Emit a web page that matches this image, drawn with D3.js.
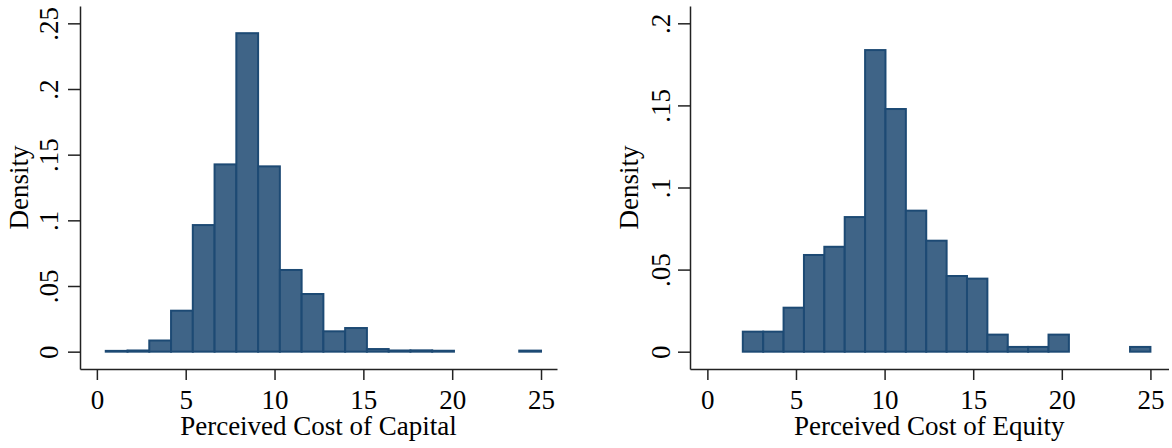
<!DOCTYPE html>
<html>
<head>
<meta charset="utf-8">
<script src="https://cdn.jsdelivr.net/npm/d3@7"></script>
<style>
  html, body { margin: 0; padding: 0; background: #fff; }
  svg { display: block; }
  text { font-family: "Liberation Serif", "Times New Roman", serif; fill: #000; }
</style>
</head>
<body>
<svg id="chart" width="1172" height="448"></svg>
<script>
// ---- Data ----
// Left panel: Perceived Cost of Capital (20 bins from 0.5 to 25)
const capitalBinStart = 0.5;
const capitalBinWidth = 1.225;
const capitalDensity = [0.0006, 0.0009, 0.0085, 0.0312, 0.0964, 0.1426, 0.2425, 0.1411, 0.0622, 0.0439,
                        0.0155, 0.0180, 0.0020, 0.0009, 0.0010, 0.0007, 0, 0, 0, 0.0008];
// Right panel: Perceived Cost of Equity (20 bins from 2 to 25)
const equityBinStart = 2;
const equityBinWidth = 1.15;
const equityDensity = [0.0122, 0.0122, 0.0268, 0.0589, 0.0639, 0.0820, 0.1837, 0.1478, 0.0859, 0.0676,
                       0.0461, 0.0445, 0.0104, 0.0029, 0.0029, 0.0104, 0, 0, 0, 0.0029];

const xTicks = [0, 5, 10, 15, 20, 25];
const capitalYTicks = [0, 0.05, 0.1, 0.15, 0.2, 0.25];
const equityYTicks = [0, 0.05, 0.1, 0.15, 0.2];
const yTickLabels = {0: "0", 0.05: ".05", 0.1: ".1", 0.15: ".15", 0.2: ".2", 0.25: ".25"};

const capitalTitle = "Perceived Cost of Capital";
const equityTitle = "Perceived Cost of Equity";
const yTitle = "Density";

// ---- Drawing ----
const svg = d3.select("#chart");
const fillColor = "#3f6487";
const strokeColor = "#1d4a74";
const axisColor = "#222";
const fontSize = 27;

function panel(opts) {
  const x = d3.scaleLinear().domain(opts.xDomain).range(opts.xRange);
  const y = d3.scaleLinear().domain(opts.yDomain).range(opts.yRange);
  const g = svg.append("g");

  const bins = opts.values.map((v, i) => ({
    x0: opts.binStart + i * opts.binWidth,
    x1: opts.binStart + (i + 1) * opts.binWidth,
    v: v
  })).filter(d => d.v > 0);

  g.selectAll("rect.bar").data(bins).join("rect")
    .attr("class", "bar")
    .attr("x", d => x(d.x0))
    .attr("width", d => x(d.x1) - x(d.x0))
    .attr("y", d => y(d.v))
    .attr("height", d => Math.max(0.5, y(0) - y(d.v)))
    .attr("fill", fillColor)
    .attr("stroke", strokeColor)
    .attr("stroke-width", 2);

  // x axis
  const xAxis = g.append("g")
    .attr("transform", `translate(0,${opts.yRange[0]})`)
    .call(d3.axisBottom(x).tickValues(xTicks).tickSize(11).tickSizeOuter(0).tickFormat(d3.format("d")));
  xAxis.selectAll("path, line").attr("stroke", axisColor).attr("stroke-width", 1.5);
  xAxis.selectAll("text")
    .attr("y", 40).attr("dy", null)
    .style("font-size", fontSize + "px")
    .style("font-family", "'Liberation Serif', serif")
    .attr("fill", "#000");

  // y axis
  const yAxis = g.append("g")
    .attr("transform", `translate(${opts.xRange[0]},0)`)
    .call(d3.axisLeft(y).tickValues(opts.yTicks).tickSize(12).tickSizeOuter(0).tickFormat(d => yTickLabels[d]));
  yAxis.selectAll("path, line").attr("stroke", axisColor).attr("stroke-width", 1.5);
  yAxis.selectAll("text")
    .attr("x", 0).attr("y", opts.yLabelOffset).attr("dy", null)
    .attr("transform", "rotate(-90)")
    .attr("text-anchor", "middle")
    .style("font-size", fontSize + "px")
    .style("font-family", "'Liberation Serif', serif")
    .attr("fill", "#000");

  // axis titles
  g.append("text")
    .attr("x", (opts.xRange[0] + opts.xRange[1]) / 2)
    .attr("y", 435)
    .attr("text-anchor", "middle")
    .style("font-size", fontSize + "px")
    .text(opts.xTitle);

  const cy = (opts.yRange[0] + opts.yRange[1]) / 2;
  g.append("text")
    .attr("transform", `translate(${opts.xRange[0] - 52},${cy}) rotate(-90)`)
    .attr("text-anchor", "middle")
    .style("font-size", fontSize + "px")
    .text(yTitle);
}

panel({
  values: capitalDensity, binStart: capitalBinStart, binWidth: capitalBinWidth,
  xDomain: [-0.95, 25.9], xRange: [80, 557],
  yDomain: [-0.0132, 0.2632], yRange: [369, 6],
  yTicks: capitalYTicks, yLabelOffset: -22, xTitle: capitalTitle
});

panel({
  values: equityDensity, binStart: equityBinStart, binWidth: equityBinWidth,
  xDomain: [-0.98, 26.02], xRange: [690, 1168.5],
  yDomain: [-0.01054, 0.21054], yRange: [369, 6],
  yTicks: equityYTicks, yLabelOffset: -20, xTitle: equityTitle
});
</script>
</body>
</html>
